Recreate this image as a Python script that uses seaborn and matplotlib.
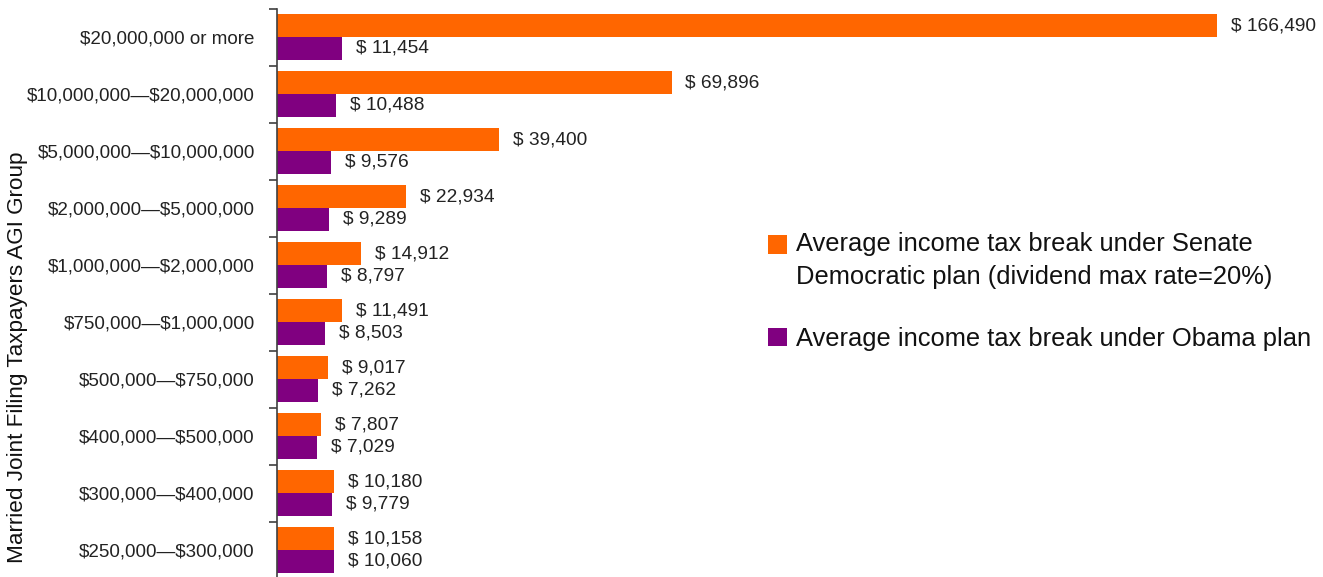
import matplotlib
matplotlib.use("Agg")
import matplotlib.pyplot as plt
from matplotlib.patches import Rectangle
from matplotlib.legend_handler import HandlerPatch
import seaborn as sns
import pandas as pd
import numpy as np

categories = ["$20,000,000 or more", "$10,000,000\u2014$20,000,000", "$5,000,000\u2014$10,000,000",
              "$2,000,000\u2014$5,000,000", "$1,000,000\u2014$2,000,000", "$750,000\u2014$1,000,000",
              "$500,000\u2014$750,000", "$400,000\u2014$500,000", "$300,000\u2014$400,000",
              "$250,000\u2014$300,000"]
senate = [166490, 69896, 39400, 22934, 14912, 11491, 9017, 7807, 10180, 10158]
obama = [11454, 10488, 9576, 9289, 8797, 8503, 7262, 7029, 9779, 10060]
series_names = ["Average income tax break under Senate\nDemocratic plan (dividend max rate=20%)",
                "Average income tax break under Obama plan"]
colors = ["#FF6600", "#800080"]
ylabel = "Married Joint Filing Taxpayers AGI Group"

df = pd.DataFrame({
    "group": categories * 2,
    "value": senate + obama,
    "plan": [series_names[0]] * len(categories) + [series_names[1]] * len(categories),
})

sns.set_style("white")
plt.rcParams['font.family'] = ['Liberation Sans', 'DejaVu Sans']
plt.rcParams['text.parse_math'] = False

W, H = 1323, 577
fig = plt.figure(figsize=(W / 100, H / 100), dpi=100)
ax = fig.add_axes([277 / W, -1.5 / H, (1310 - 277) / W, 570 / H])

sns.barplot(data=df, y="group", x="value", hue="plan", order=categories,
            hue_order=series_names, palette=colors, orient="h", width=0.8,
            saturation=1, linewidth=0, ax=ax, legend=True)

ax.set_xlim(0, 183000)
ax.set_ylim(len(categories) - 0.5, -0.5)

for cont in ax.containers:
    ax.bar_label(cont, labels=[f"$ {v:,.0f}" for v in cont.datavalues],
                 padding=10, fontsize=13.8, color="#222222")

# Axis styling
for s in ["top", "right", "bottom"]:
    ax.spines[s].set_visible(False)
ax.spines["left"].set_color("#404040")
ax.spines["left"].set_linewidth(1.2)
ax.set_xticks([])
ax.set_xlabel("")
ax.set_ylabel("")
ax.tick_params(axis="y", which="major", left=True, length=0, pad=16, labelsize=13.5,
               labelcolor="#222222")
ax.set_yticks(np.arange(-0.5, len(categories), 1), minor=True)
ax.tick_params(axis="y", which="minor", left=True, length=6, width=1.2, color="#404040",
               direction="out")

fig.text(18 / W, 1 - 357 / H, ylabel, rotation=90, va="center", ha="center",
         fontsize=16.2, color="#111111")

LEG_FS = 18.4
LINESP = 1.45


def top_patch(legend, orig_handle, xdescent, ydescent, width, height, fontsize):
    shift = 0.5 * LINESP * fontsize * 0.9
    return Rectangle((-xdescent, -ydescent + shift), width, height)


handles, labels = ax.get_legend_handles_labels()
leg = ax.legend(handles, labels, loc="upper left", bbox_to_anchor=(768 / W, 1 - 232 / H),
                bbox_transform=fig.transFigure, frameon=False, fontsize=LEG_FS,
                handlelength=0.75, handleheight=0.75, handletextpad=0.35,
                labelspacing=1.5, borderpad=0, borderaxespad=0,
                handler_map={handles[0]: HandlerPatch(patch_func=top_patch)})
for t in leg.get_texts():
    t.set_linespacing(LINESP)
    t.set_color("#111111")

fig.savefig("out.png", dpi=100)
